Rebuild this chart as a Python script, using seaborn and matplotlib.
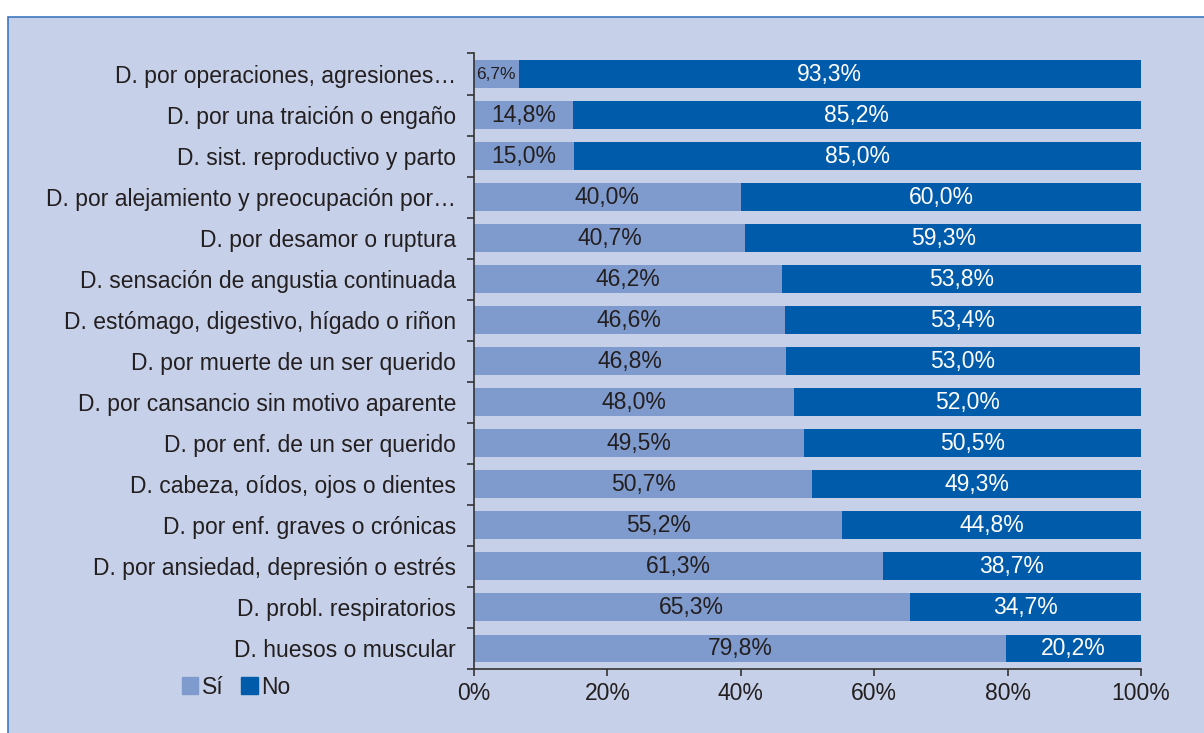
import pandas as pd
import seaborn as sns
import matplotlib.pyplot as plt
from matplotlib.patches import Rectangle

categorias = [
    "D. por operaciones, agresiones…",
    "D. por una traición o engaño",
    "D. sist. reproductivo y parto",
    "D. por alejamiento y preocupación por…",
    "D. por desamor o ruptura",
    "D. sensación de angustia continuada",
    "D. estómago, digestivo, hígado o riñon",
    "D. por muerte de un ser querido",
    "D. por cansancio sin motivo aparente",
    "D. por enf. de un ser querido",
    "D. cabeza, oídos, ojos o dientes",
    "D. por enf. graves o crónicas",
    "D. por ansiedad, depresión o estrés",
    "D. probl. respiratorios",
    "D. huesos o muscular",
]
si = [6.7, 14.8, 15.0, 40.0, 40.7, 46.2, 46.6, 46.8, 48.0, 49.5, 50.7, 55.2, 61.3, 65.3, 79.8]
no = [93.3, 85.2, 85.0, 60.0, 59.3, 53.8, 53.4, 53.0, 52.0, 50.5, 49.3, 44.8, 38.7, 34.7, 20.2]

df = pd.DataFrame({"cat": categorias, "si": si, "no": no})
df["total"] = df["si"] + df["no"]

sns.set_theme(style="white")
plt.rcParams["font.family"] = ["Liberation Sans Narrow", "Liberation Sans", "DejaVu Sans"]

c_si = "#7f9bcd"
c_no = "#005bab"
fondo = "#c6d0e8"
texto = "#231f20"

fig = plt.figure(figsize=(12.04, 7.33), dpi=100, facecolor="white")
fig.patches.append(Rectangle((8 / 1204, -0.01), 1.0, 1 - 17 / 733 + 0.01,
                             transform=fig.transFigure, facecolor=fondo,
                             edgecolor="#3f78c0", linewidth=1.2, zorder=-10))
ax = fig.add_axes([474 / 1204, 1 - 669 / 733, (1141 - 474) / 1204, (669 - 53.5) / 733])
ax.set_facecolor("none")
ax.set_zorder(5)

# barra total (No) debajo, Sí encima
sns.barplot(data=df, y="cat", x="total", color=c_no, orient="h", width=0.68,
            saturation=1, linewidth=0, ax=ax)
sns.barplot(data=df, y="cat", x="si", color=c_si, orient="h", width=0.68,
            saturation=1, linewidth=0, ax=ax)

for i, (s, n) in enumerate(zip(si, no)):
    txt_s = f"{s:.1f}%".replace(".", ",")
    txt_n = f"{n:.1f}%".replace(".", ",")
    if s < 10:
        ax.text(s / 2, i, txt_s, ha="center", va="center", fontsize=12.5, color=texto)
    else:
        ax.text(s / 2, i, txt_s, ha="center", va="center", fontsize=16.5, color=texto)
    ax.text(s + n / 2, i, txt_n, ha="center", va="center", fontsize=16.5, color="white")

ax.set_xlim(0, 100)
ax.set_ylim(14.5, -0.5)
ax.set_xticks([0, 20, 40, 60, 80, 100])
ax.set_xticklabels([f"{v}%" for v in [0, 20, 40, 60, 80, 100]])
ax.set_yticks(range(len(categorias)))
ax.set_yticklabels(categorias)
ax.set_yticks([i + 0.5 for i in range(-1, len(categorias))], minor=True)
ax.set_xlabel("")
ax.set_ylabel("")

for side in ["top", "right"]:
    ax.spines[side].set_visible(False)
for side in ["left", "bottom"]:
    ax.spines[side].set_color("#333333")
    ax.spines[side].set_linewidth(1.2)

ax.tick_params(axis="y", which="major", length=0, pad=13, labelsize=16.5, labelcolor=texto)
ax.tick_params(axis="y", which="minor", length=5, width=1.2, color="#333333", direction="out", left=True)
ax.tick_params(axis="x", which="major", length=5, width=1.2, color="#333333", direction="out",
               bottom=True, pad=4, labelsize=16.5, labelcolor=texto)

handles = [Rectangle((0, 0), 1, 1, color=c_si), Rectangle((0, 0), 1, 1, color=c_no)]
fig.legend(handles, ["Sí", "No"], loc="center left", bbox_to_anchor=(166 / 1204, 1 - 687 / 733),
           ncol=2, frameon=False, fontsize=16.5, handlelength=0.7, handleheight=0.7,
           handletextpad=0.15, columnspacing=0.8, borderpad=0.2, labelcolor=texto)

fig.savefig("out.png", dpi=100, facecolor=fig.get_facecolor())
